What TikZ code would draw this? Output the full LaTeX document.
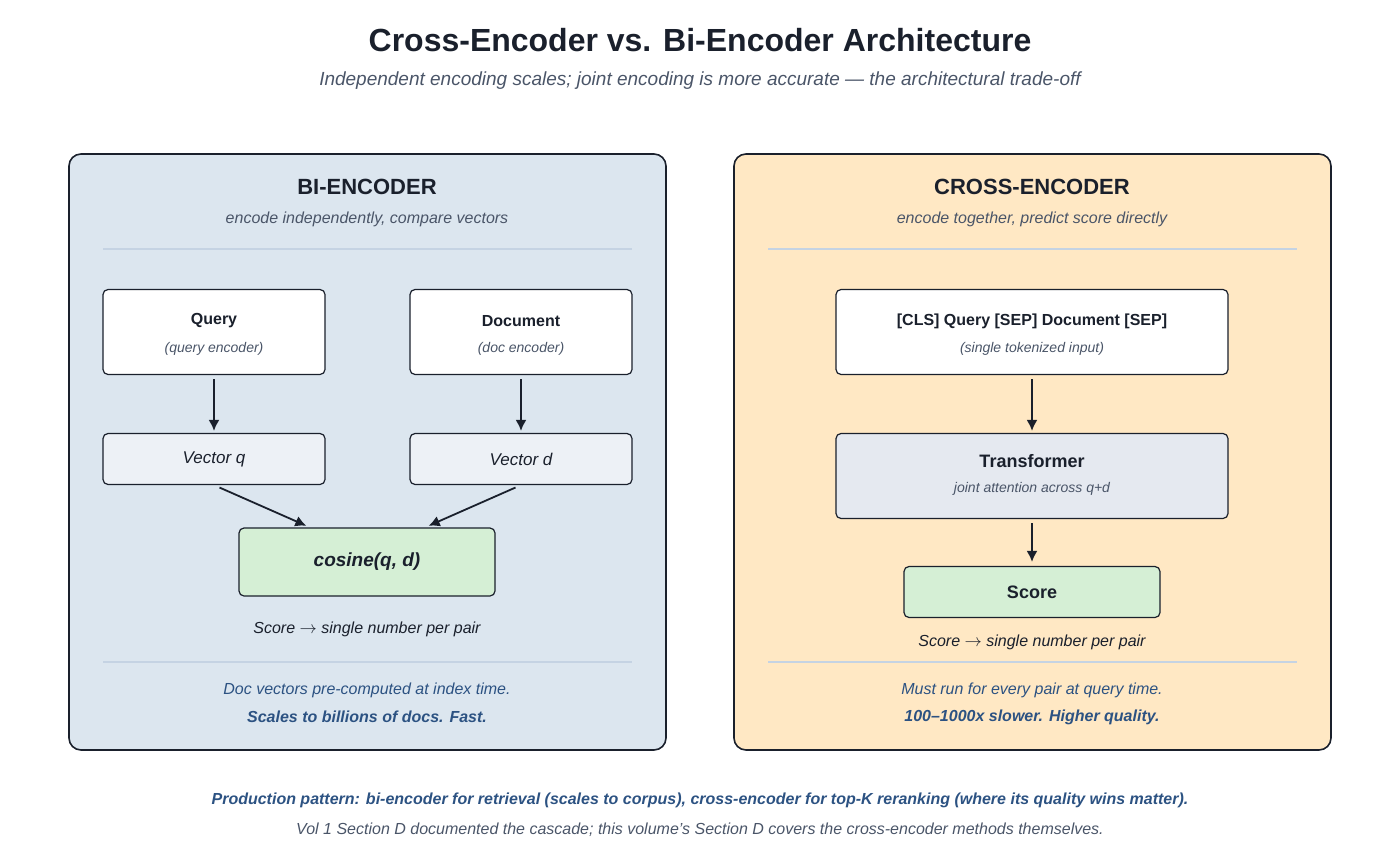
\documentclass[tikz,border=0pt]{standalone}
\usepackage{fontspec}
\setmainfont{Liberation Sans}
\usetikzlibrary{calc,arrows.meta}
\definecolor{inkc}{HTML}{1A202C}
\definecolor{greyc}{HTML}{4A5568}
\definecolor{bluec}{HTML}{2C5282}
\definecolor{bipanel}{HTML}{DCE6EF}
\definecolor{crpanel}{HTML}{FFE8C4}
\definecolor{rulec}{HTML}{C5D3E3}
\definecolor{vecfill}{HTML}{EDF1F6}
\definecolor{greenc}{HTML}{D5EFD5}
\definecolor{tranfill}{HTML}{E5E9F0}
\begin{document}
\begin{tikzpicture}[x=1pt,y=-1pt,
    panel/.style={draw=inkc,line width=1.6pt,rounded corners=12pt},
    box/.style={draw=inkc,line width=1.2pt,rounded corners=5pt,fill=white},
    flow/.style={draw=inkc,line width=1.8pt,-{Latex[length=11pt,width=11pt]}},
    divider/.style={draw=rulec,line width=1.5pt},
    head/.style={font=\bfseries\fontsize{16}{18}\selectfont,text=inkc},
    note/.style={font=\itshape\fontsize{14}{16}\selectfont,text=greyc}]
  \useasboundingbox (0,0) rectangle (1400,853);

  % title
  \node (title) at (700,40) {\fontsize{32}{36}\selectfont\bfseries\color{inkc}Cross-Encoder vs. Bi-Encoder Architecture};
  \node (subtitle) at (700,81) {\fontsize{19}{22}\selectfont\itshape\color{greyc}Independent encoding scales; joint encoding is more accurate --- the architectural trade-off};

  % panels
  \draw[panel,fill=bipanel] (69,154) rectangle (666,750);
  \draw[panel,fill=crpanel] (734,154) rectangle (1331,750);

  % bi-encoder
  \node[font=\bfseries\fontsize{22}{26}\selectfont,text=inkc] (bihead) at (367,187) {BI-ENCODER};
  \node[note,font=\itshape\fontsize{16}{18}\selectfont] (bisub) at (367,219) {encode independently, compare vectors};
  \draw[divider] (103,249) -- (632,249);
  \node[box,minimum width=222pt,minimum height=85pt] (query) at (214,332) {};
  \node[head] at ($(query)+(0,-11)$) {Query};
  \node[note] at ($(query)+(0,17)$) {(query encoder)};
  \node[box,minimum width=222pt,minimum height=85pt] (doc) at (521,332) {};
  \node[head] at ($(doc)+(0,-11)$) {Document};
  \node[note] at ($(doc)+(0,17)$) {(doc encoder)};
  \node[box,fill=vecfill,minimum width=222pt,minimum height=51pt,font=\itshape\fontsize{17}{20}\selectfont,text=inkc] (vecq) at (214,459) {Vector q};
  \node[box,fill=vecfill,minimum width=222pt,minimum height=51pt,font=\itshape\fontsize{17}{20}\selectfont,text=inkc] (vecd) at (521,459) {Vector d};
  \node[box,fill=greenc,minimum width=256pt,minimum height=68pt,font=\bfseries\itshape\fontsize{19}{22}\selectfont,text=inkc] (cosine) at (367,562) {cosine(q, d)};
  \draw[flow,shorten <=4pt,shorten >=2pt] (query) -- (vecq);
  \draw[flow,shorten <=4pt,shorten >=2pt] (doc) -- (vecd);
  \draw[flow,shorten <=6pt,shorten >=4pt] (vecq.south) -- ($(cosine.north)+(-57,0)$);
  \draw[flow,shorten <=6pt,shorten >=4pt] (vecd.south) -- ($(cosine.north)+(58,0)$);
  \node[font=\itshape\fontsize{16}{18}\selectfont,text=inkc] (biscore) at (367,629) {Score $\rightarrow$ single number per pair};
  \draw[divider] (103,662) -- (632,662);
  \node[font=\itshape\fontsize{16}{18}\selectfont,text=bluec] (bin1) at (367,690) {Doc vectors pre-computed at index time.};
  \node[font=\bfseries\itshape\fontsize{16}{18}\selectfont,text=bluec] (bin2) at (367,717) {Scales to billions of docs. Fast.};

  % cross-encoder
  \node[font=\bfseries\fontsize{22}{26}\selectfont,text=inkc] (crhead) at (1032,187) {CROSS-ENCODER};
  \node[note,font=\itshape\fontsize{16}{18}\selectfont] (crsub) at (1032,219) {encode together, predict score directly};
  \draw[divider] (768,249) -- (1297,249);
  \node[box,minimum width=392pt,minimum height=85pt] (input) at (1032,332) {};
  \node[head] at ($(input)+(0,-11)$) {[CLS] Query [SEP] Document [SEP]};
  \node[note] at ($(input)+(0,17)$) {(single tokenized input)};
  \node[box,fill=tranfill,minimum width=392pt,minimum height=85pt] (trans) at (1032,476) {};
  \node[head,font=\bfseries\fontsize{18}{20}\selectfont] at ($(trans)+(0,-15)$) {Transformer};
  \node[note] at ($(trans)+(0,13)$) {joint attention across q+d};
  \node[box,fill=greenc,minimum width=256pt,minimum height=51pt,font=\bfseries\fontsize{18}{20}\selectfont,text=inkc] (score) at (1032,592) {Score};
  \draw[flow,shorten <=4pt,shorten >=2pt] (input) -- (trans);
  \draw[flow,shorten <=4pt,shorten >=4pt] (trans) -- (score);
  \node[font=\itshape\fontsize{16}{18}\selectfont,text=inkc] (crscore) at (1032,642) {Score $\rightarrow$ single number per pair};
  \draw[divider] (768,662) -- (1297,662);
  \node[font=\itshape\fontsize{16}{18}\selectfont,text=bluec] (crn1) at (1032,690) {Must run for every pair at query time.};
  \node[font=\bfseries\itshape\fontsize{16}{18}\selectfont,text=bluec] (crn2) at (1032,717) {100--1000x slower. Higher quality.};

  % footer
  \node[font=\bfseries\itshape\fontsize{16}{18}\selectfont,text=bluec] (foot1) at (700,800) {Production pattern: bi-encoder for retrieval (scales to corpus), cross-encoder for top-K reranking (where its quality wins matter).};
  \node[font=\itshape\fontsize{16}{18}\selectfont,text=greyc] (foot2) at (700,830) {Vol 1 Section D documented the cascade; this volume's Section D covers the cross-encoder methods themselves.};
\end{tikzpicture}
\end{document}
